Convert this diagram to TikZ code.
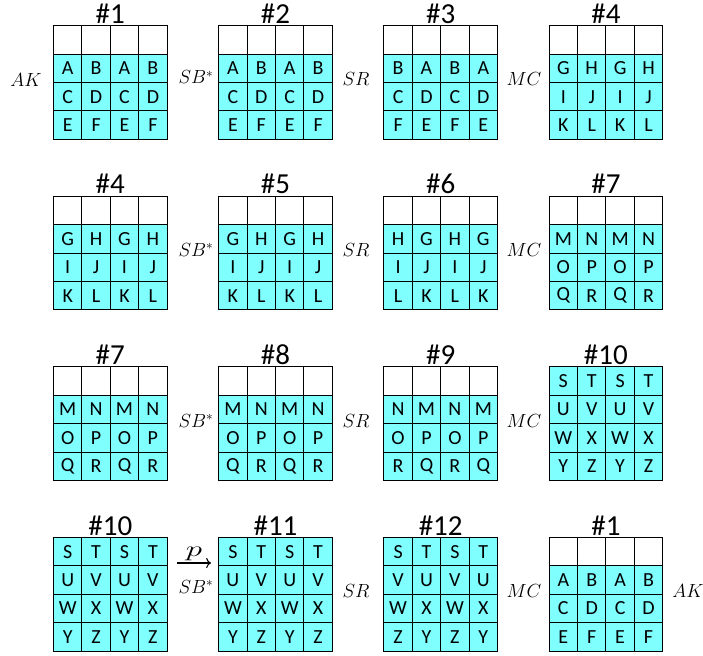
\documentclass[tikz,border=0pt]{standalone}
\usepackage{fix-cm}
\usepackage{fontspec}
\setmainfont{Carlito}
\usetikzlibrary{arrows.meta}
\definecolor{statecyan}{RGB}{128,255,255}
\tikzset{
  cell/.style={draw=black,line width=1.1pt,fill=white,minimum size=28.4pt,inner sep=0pt,font=\fontsize{20}{23}\selectfont},
  lettercell/.style={cell,fill=statecyan},
  gridtitle/.style={anchor=base,inner sep=0pt,font=\fontsize{29}{32}\selectfont},
  oplabel/.style={anchor=base,inner sep=0pt,font=\fontsize{19}{22}\selectfont}
}
\newcommand{\cw}{28.4}
% #1 name, #2 left, #3 top, #4 title, #5 first coloured row, #6 rows
\newcommand{\stategrid}[6]{%
  \foreach \i in {1,...,4}{
    \foreach \j in {1,...,4}{
      \node[cell] (#1-\i-\j) at ({#2+(\j-0.5)*\cw},{#3+(\i-0.5)*\cw}) {};
    }
  }
  \foreach \row [count=\i from #5] in {#6}{
    \foreach \t [count=\j] in \row{
      \node[lettercell] (#1-\i-\j) at ({#2+(\j-0.5)*\cw},{#3+(\i-0.5)*\cw}) {\t};
    }
  }
  \node[gridtitle] (#1-title) at ({#2+2*\cw},{#3-2.4}) {#4};
}
\begin{document}
\begin{tikzpicture}[x=1pt,y=-1pt]
\useasboundingbox (0,0) rectangle (703,655);

% row 1
\stategrid{a1}{53.5}{25.7}{\#1}{2}{{A,B,A,B},{C,D,C,D},{E,F,E,F}}
\stategrid{a2}{218.7}{25.7}{\#2}{2}{{A,B,A,B},{C,D,C,D},{E,F,E,F}}
\stategrid{a3}{383.9}{25.7}{\#3}{2}{{B,A,B,A},{C,D,C,D},{F,E,F,E}}
\stategrid{a4}{549.1}{25.7}{\#4}{2}{{G,H,G,H},{I,J,I,J},{K,L,K,L}}
\node[oplabel] (a-ak) at (26,86.5) {$AK$};
\node[oplabel] (a-sb) at (196,84) {$SB^*$};
\node[oplabel] (a-sr) at (356,86) {$SR$};
\node[oplabel] (a-mc) at (524,86) {$MC$};

% row 2
\stategrid{b1}{53.5}{196.3}{\#4}{2}{{G,H,G,H},{I,J,I,J},{K,L,K,L}}
\stategrid{b2}{218.7}{196.3}{\#5}{2}{{G,H,G,H},{I,J,I,J},{K,L,K,L}}
\stategrid{b3}{383.9}{196.3}{\#6}{2}{{H,G,H,G},{I,J,I,J},{L,K,L,K}}
\stategrid{b4}{549.1}{196.3}{\#7}{2}{{M,N,M,N},{O,P,O,P},{Q,R,Q,R}}
\node[oplabel] (b-sb) at (196,256.2) {$SB^*$};
\node[oplabel] (b-sr) at (356,256.6) {$SR$};
\node[oplabel] (b-mc) at (524,256.6) {$MC$};

% row 3
\stategrid{c1}{53.5}{366.9}{\#7}{2}{{M,N,M,N},{O,P,O,P},{Q,R,Q,R}}
\stategrid{c2}{218.7}{366.9}{\#8}{2}{{M,N,M,N},{O,P,O,P},{Q,R,Q,R}}
\stategrid{c3}{383.9}{366.9}{\#9}{2}{{N,M,N,M},{O,P,O,P},{R,Q,R,Q}}
\stategrid{c4}{549.1}{366.9}{\#10}{1}{{S,T,S,T},{U,V,U,V},{W,X,W,X},{Y,Z,Y,Z}}
\node[oplabel] (c-sb) at (196,427) {$SB^*$};
\node[oplabel] (c-sr) at (356,427.2) {$SR$};
\node[oplabel] (c-mc) at (524,427.2) {$MC$};

% row 4
\stategrid{d1}{53.5}{537.5}{\#10}{1}{{S,T,S,T},{U,V,U,V},{W,X,W,X},{Y,Z,Y,Z}}
\stategrid{d2}{218.7}{537.5}{\#11}{1}{{S,T,S,T},{U,V,U,V},{W,X,W,X},{Y,Z,Y,Z}}
\stategrid{d3}{383.9}{537.5}{\#12}{1}{{S,T,S,T},{V,U,V,U},{W,X,W,X},{Z,Y,Z,Y}}
\stategrid{d4}{549.1}{537.5}{\#1}{2}{{A,B,A,B},{C,D,C,D},{E,F,E,F}}
\coordinate (parr-s) at (177,563);
\coordinate (parr-e) at (211,563);
\draw[-{Computer Modern Rightarrow[scale=1.2]},line width=1.1pt] (parr-s) -- (parr-e) node[midway,above=2pt,inner sep=0pt,font=\fontsize{22}{25}\selectfont] (d-p) {\scalebox{1.5}[1]{$p$}};
\node[oplabel] (d-sb) at (196,593.5) {$SB^*$};
\node[oplabel] (d-sr) at (356,597) {$SR$};
\node[oplabel] (d-mc) at (524,597) {$MC$};
\node[oplabel] (d-ak) at (688,597) {$AK$};
\end{tikzpicture}
\end{document}
